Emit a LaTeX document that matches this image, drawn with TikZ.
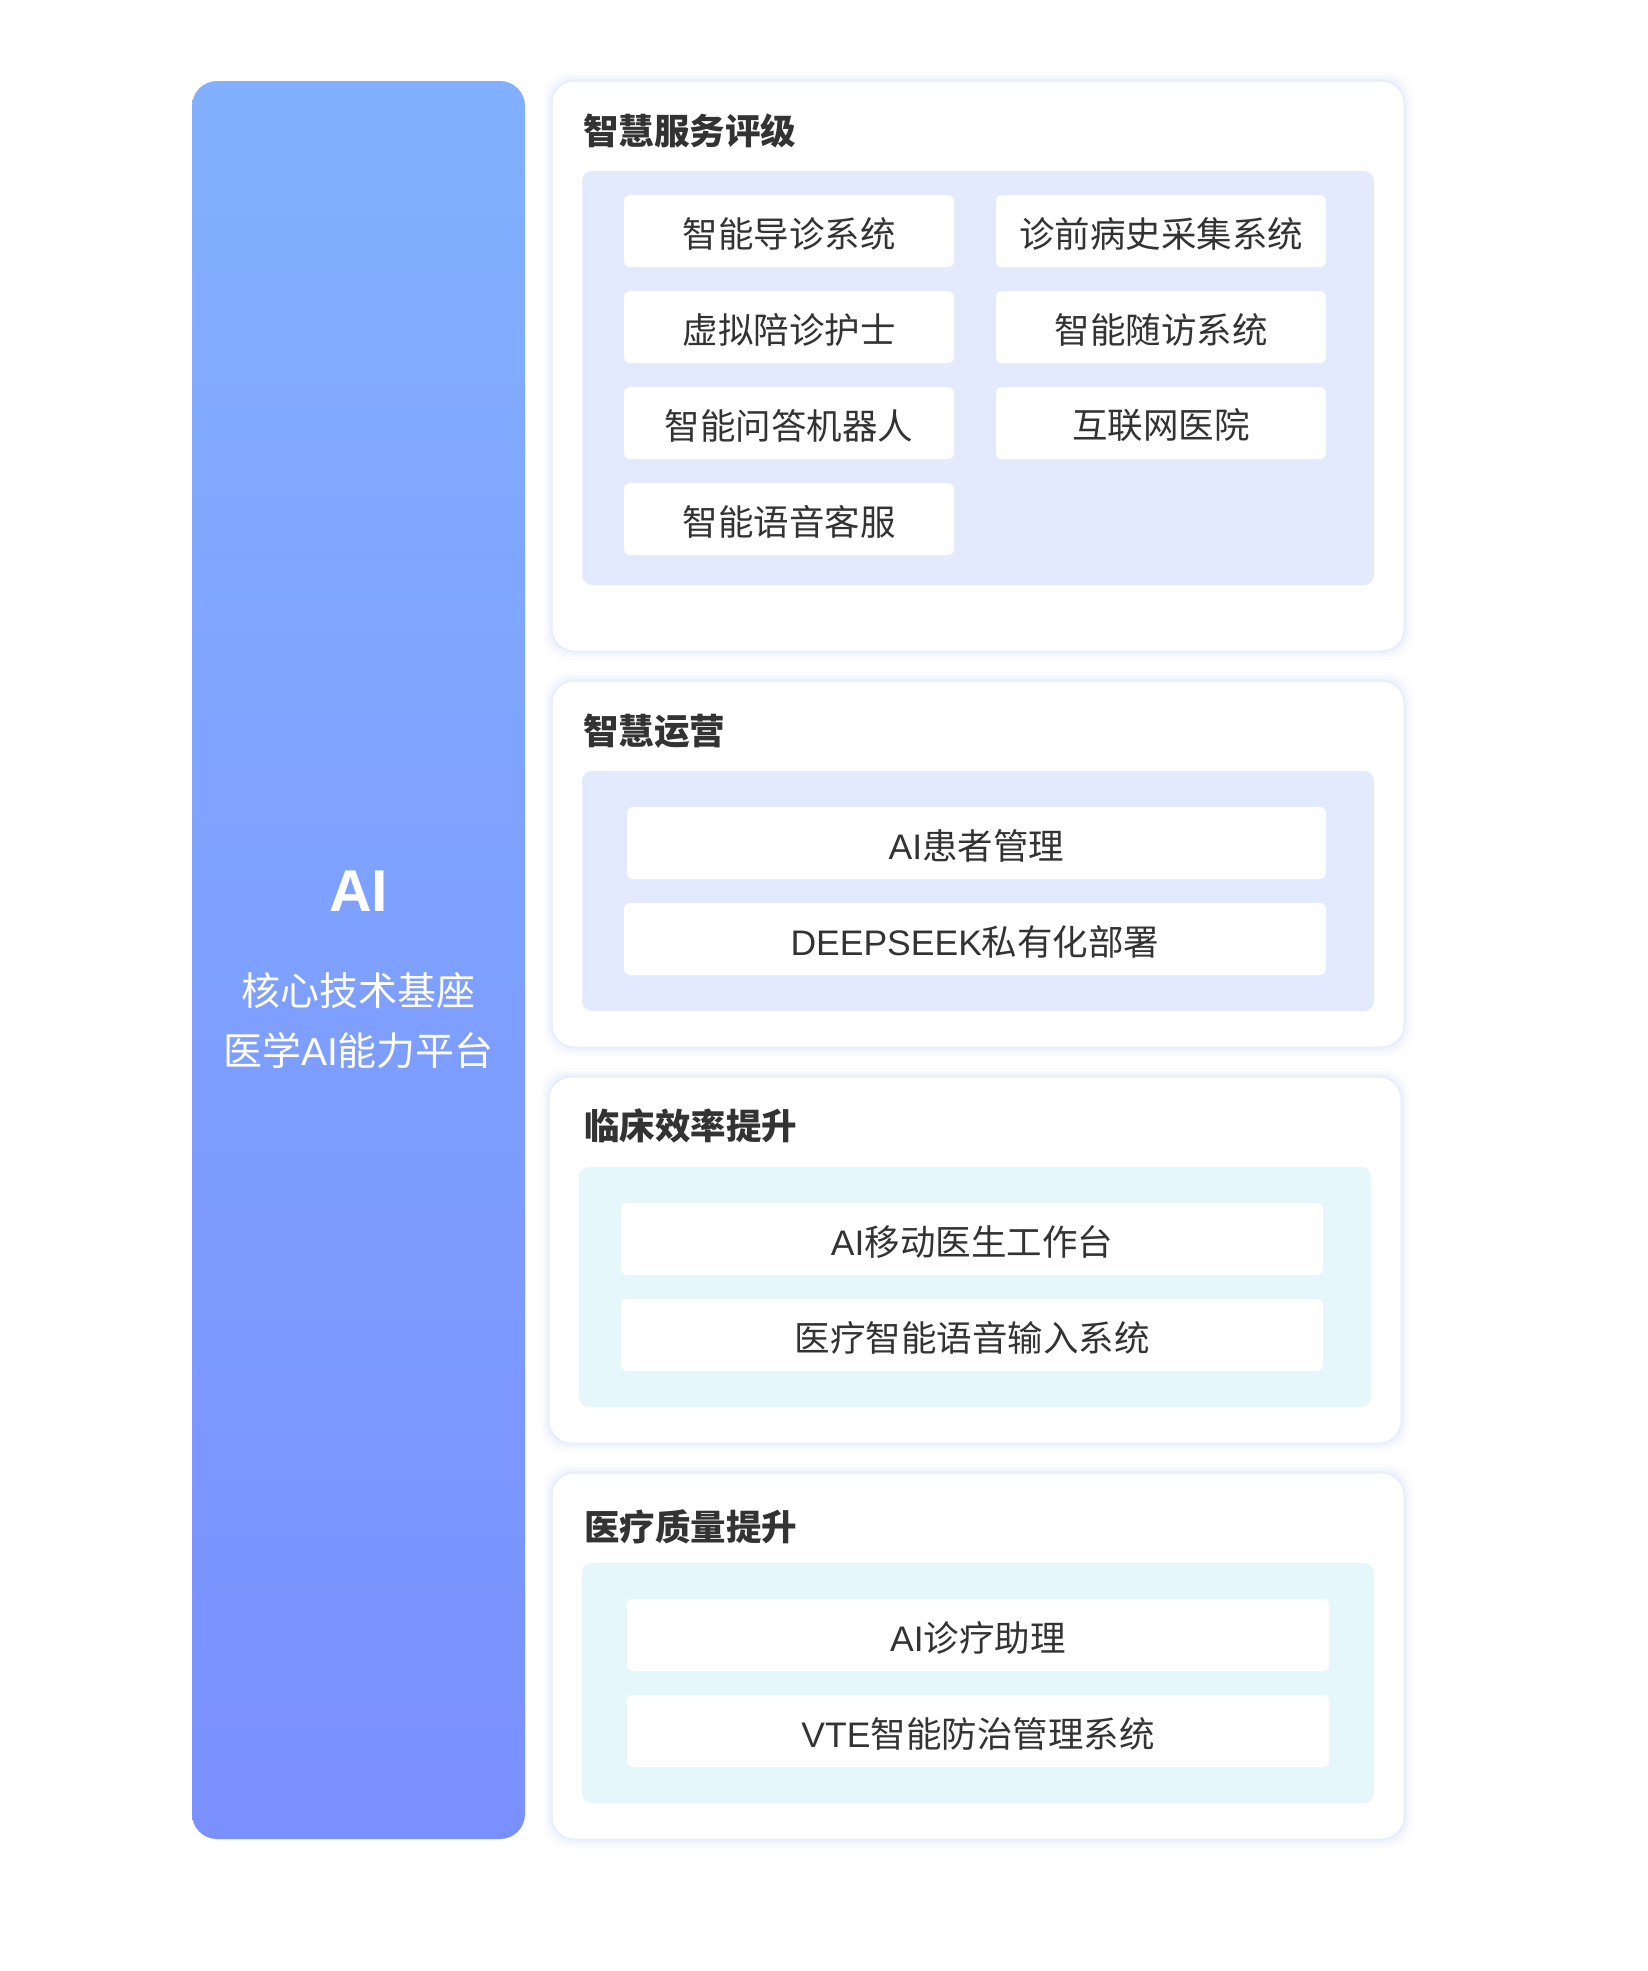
\documentclass[tikz,border=0pt]{standalone}
\usepackage{fontspec}
\setmainfont{Noto Sans CJK SC}
\newfontfamily\lat{Liberation Sans}
\usetikzlibrary{positioning,calc}
\definecolor{txt}{HTML}{333333}
\definecolor{lav}{HTML}{E4EAFD}
\definecolor{cyanbg}{HTML}{E5F7FB}
\definecolor{glow}{HTML}{C9D3FA}
\definecolor{coretop}{HTML}{82B0FF}
\definecolor{corebot}{HTML}{7A90FF}
\newcommand{\glowbox}[4]{%
  \foreach \d/\o in {9/0.05,6/0.07,4/0.09,2/0.14}{%
    \fill[glow, opacity=\o, rounded corners=24pt] ($(#1,#2)+(-\d,-\d)$) rectangle ($(#3,#4)+(\d,\d)$);}%
}
\tikzset{
  card/.style={fill=white, rounded corners=22pt, draw=glow!45, line width=1pt},
  panel/.style={rounded corners=10pt},
  item/.style={fill=white, rounded corners=6pt, inner sep=0pt, minimum height=72pt, text=txt,
    font=\fontsize{35.5pt}{42pt}\selectfont},
  lbl/.style={inner sep=0pt, text=txt, font=\fontsize{35.5pt}{42pt}\selectfont},
  ttl/.style={anchor=west, inner sep=0pt, text=txt, font=\fontsize{35.5pt}{42pt}\selectfont\bfseries},
  coretxt/.style={text=white, inner sep=0pt, font=\fontsize{39pt}{46pt}\selectfont},
}
\begin{document}
\begin{tikzpicture}[x=1pt,y=-1pt]
\useasboundingbox (0,0) rectangle (1647,1971);
\fill[white] (0,0) rectangle (1647,1971);

% left core panel
\shade[top color=coretop, bottom color=corebot, rounded corners=25pt] (192,81) rectangle (525,1839);
\node[coretxt, font=\fontsize{59pt}{64pt}\selectfont\bfseries\lat] (ai) at (358.5,891) {AI};
\node[coretxt] (core1) at (358.5,991) {核心技术基座};
\node[coretxt] (core2) at (358.5,1051) {医学{\lat AI}能力平台};

% card glows
\glowbox{552}{81}{1404}{651}
\glowbox{552}{681}{1404}{1047}
\glowbox{549}{1077}{1401}{1443}
\glowbox{552}{1473}{1404}{1839}

% cards
\draw[card] (552,81) rectangle (1404,651);
\draw[card] (552,681) rectangle (1404,1047);
\draw[card] (549,1077) rectangle (1401,1443);
\draw[card] (552,1473) rectangle (1404,1839);

% titles
\node[ttl] (t1) at (583,131) {智慧服务评级};
\node[ttl] (t2) at (583,731) {智慧运营};
\node[ttl] (t3) at (584,1126) {临床效率提升};
\node[ttl] (t4) at (584,1527) {医疗质量提升};

% inner panels
\fill[lav, panel] (582,171) rectangle (1374,585);
\fill[lav, panel] (582,771) rectangle (1374,1011);
\fill[cyanbg, panel] (579,1167) rectangle (1371,1407);
\fill[cyanbg, panel] (582,1563) rectangle (1374,1803);

% card 1 items
\node[item, minimum width=330pt] (a1) at (789,231) {};
\node[item, minimum width=330pt] (a2) at (1161,231) {};
\node[item, minimum width=330pt] (a3) at (789,327) {};
\node[item, minimum width=330pt] (a4) at (1161,327) {};
\node[item, minimum width=330pt] (a5) at (789,423) {};
\node[item, minimum width=330pt] (a6) at (1161,423) {};
\node[item, minimum width=330pt] (a7) at (789,519) {};
\node[lbl] (la1) at ([yshift=-2.5pt]a1.center) {智能导诊系统};
\node[lbl] (la2) at ([yshift=-2.5pt]a2.center) {诊前病史采集系统};
\node[lbl] (la3) at ([yshift=-2.5pt]a3.center) {虚拟陪诊护士};
\node[lbl] (la4) at ([yshift=-2.5pt]a4.center) {智能随访系统};
\node[lbl] (la5) at ([yshift=-2.5pt]a5.center) {智能问答机器人};
\node[lbl] (la6) at ([yshift=-2.5pt]a6.center) {互联网医院};
\node[lbl] (la7) at ([yshift=-2.5pt]a7.center) {智能语音客服};

% card 2 items
\node[item, minimum width=699pt] (b1) at (976.5,843) {};
\node[item, minimum width=702pt] (b2) at (975,939) {};
\node[lbl] (lb1) at ([yshift=-2.5pt]b1.center) {{\lat AI}患者管理};
\node[lbl] (lb2) at ([yshift=-2.5pt]b2.center) {{\lat DEEPSEEK}私有化部署};

% card 3 items
\node[item, minimum width=702pt] (c1) at (972,1239) {};
\node[item, minimum width=702pt] (c2) at (972,1335) {};
\node[lbl] (lc1) at ([yshift=-2.5pt]c1.center) {{\lat AI}移动医生工作台};
\node[lbl] (lc2) at ([yshift=-2.5pt]c2.center) {医疗智能语音输入系统};

% card 4 items
\node[item, minimum width=702pt] (d1) at (978,1635) {};
\node[item, minimum width=702pt] (d2) at (978,1731) {};
\node[lbl] (ld1) at ([yshift=-2.5pt]d1.center) {{\lat AI}诊疗助理};
\node[lbl] (ld2) at ([yshift=-2.5pt]d2.center) {{\lat VTE}智能防治管理系统};
\end{tikzpicture}
\end{document}
